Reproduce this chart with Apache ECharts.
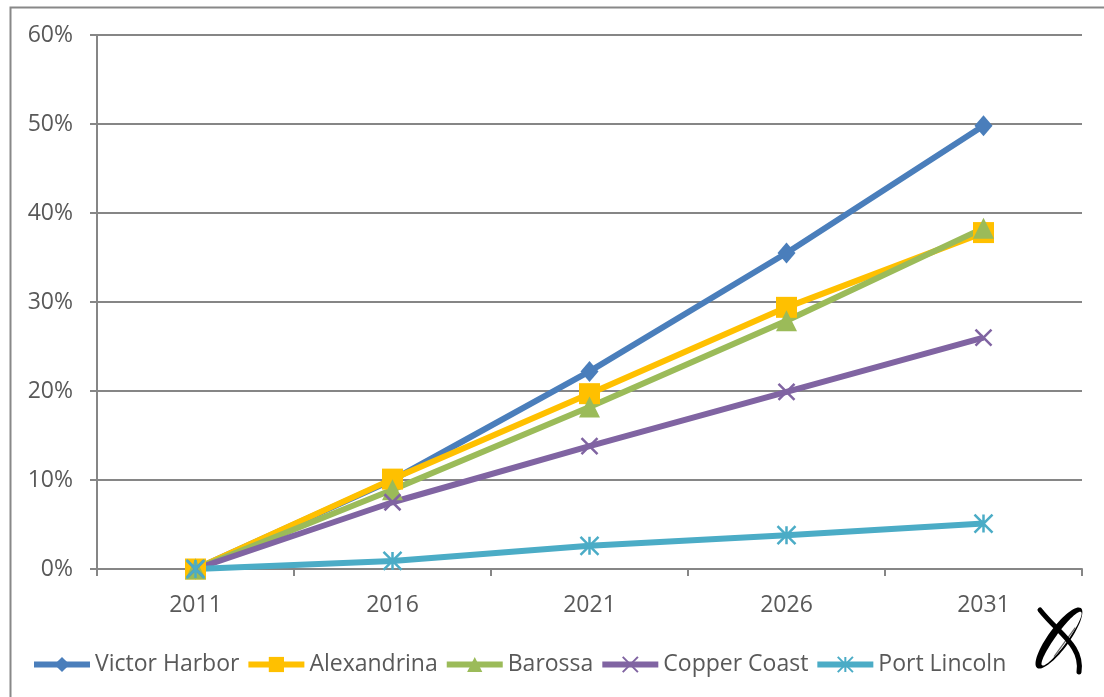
<!DOCTYPE html>
<html>
<head>
<meta charset="utf-8">
<script src="https://cdn.jsdelivr.net/npm/echarts@6/dist/echarts.min.js"></script>
<style>
  html, body { margin: 0; padding: 0; background: #ffffff; }
  #chart { width: 1104px; height: 697px; }
</style>
</head>
<body>
<div id="chart"></div>
<script>
// Projected population growth since 2011 (%)
const years = ['2011', '2016', '2021', '2026', '2031'];
const victorHarbor = [0, 10.0, 22.2, 35.5, 49.8];
const alexandrina = [0, 10.1, 19.7, 29.4, 37.8];
const barossa = [0, 8.9, 18.2, 27.9, 38.3];
const copperCoast = [0, 7.5, 13.8, 19.9, 26.0];
const portLincoln = [0, 0.9, 2.6, 3.8, 5.1];

const FONT = '"Open Sans", sans-serif';
const TEXT = '#595959';
const AXIS = '#868686';

const crossPath = 'path://M0,0L10,10M10,0L0,10';
const starPath = 'path://M5,0L5,10M0,0L10,10M10,0L0,10';

function lineSeries(name, data, color, symbol, size, stroked) {
  return {
    name: name,
    type: 'line',
    data: data,
    symbol: symbol,
    symbolSize: size,
    showAllSymbol: true,
    lineStyle: { color: color, width: 6 },
    itemStyle: stroked
      ? { color: color, borderColor: color, borderWidth: 2.5 }
      : { color: color, borderWidth: 0 },
    emphasis: { disabled: true },
    animation: false
  };
}

const chart = echarts.init(document.getElementById('chart'), null, { renderer: 'canvas' });
chart.setOption({
  backgroundColor: '#ffffff',
  textStyle: { fontFamily: FONT },
  grid: { left: 97, right: 22, top: 35, bottom: 128, containLabel: false },
  legend: {
    left: 31,
    top: 653,
    padding: 0,
    itemWidth: 56,
    itemHeight: 19,
    itemGap: 6,
    lineStyle: { width: 6 },
    textStyle: { fontFamily: FONT, fontSize: 23, color: TEXT },
    data: ['Victor Harbor', 'Alexandrina', 'Barossa', 'Copper Coast', 'Port Lincoln']
  },
  xAxis: {
    type: 'category',
    data: years,
    boundaryGap: true,
    axisLine: { show: true, lineStyle: { color: AXIS, width: 2 } },
    axisTick: { show: true, length: 7, lineStyle: { color: AXIS, width: 2 } },
    axisLabel: { color: TEXT, fontFamily: FONT, fontSize: 23, margin: 25 },
    splitLine: { show: false }
  },
  yAxis: {
    type: 'value',
    min: 0,
    max: 60,
    interval: 10,
    axisLine: { show: true, lineStyle: { color: AXIS, width: 2 } },
    axisTick: { show: true, length: 7, lineStyle: { color: AXIS, width: 2 } },
    axisLabel: { color: TEXT, fontFamily: FONT, fontSize: 23, margin: 24, formatter: '{value}%' },
    splitLine: { show: true, lineStyle: { color: AXIS, width: 2 } }
  },
  series: [
    lineSeries('Victor Harbor', victorHarbor, '#4a7ebb', 'diamond', [18, 21], false),
    lineSeries('Alexandrina', alexandrina, '#ffc000', 'rect', 21, false),
    lineSeries('Barossa', barossa, '#9bbb59', 'triangle', 21, false),
    lineSeries('Copper Coast', copperCoast, '#8064a2', crossPath, 16, true),
    lineSeries('Port Lincoln', portLincoln, '#4bacc6', starPath, 18, true)
  ],
  graphic: [
    // outer chart frame
    {
      type: 'rect', left: 8, top: 5, silent: true,
      shape: { x: 0, y: 0, width: 1200, height: 800 },
      style: { fill: 'none', stroke: '#888888', lineWidth: 2 }
    },
    // logo mark: tilted crescent ring crossed by a brush stroke
    {
      type: 'group', x: 1059, y: 638, silent: true,
      children: [
        {
          type: 'ellipse', rotation: -0.63,
          shape: { cx: 0, cy: 0, rx: 10.5, ry: 37 },
          style: { fill: '#000000' }
        },
        {
          type: 'ellipse', rotation: -0.63,
          shape: { cx: 2.5, cy: -1, rx: 6, ry: 33 },
          style: { fill: '#ffffff' }
        },
        {
          type: 'line', rotation: -0.63,
          shape: { x1: 7, y1: -18, x2: 7, y2: 18 },
          style: { stroke: '#666666', lineWidth: 1.2 }
        },
        {
          type: 'bezierCurve',
          shape: { x1: -19, y1: -28, cpx1: 0, cpy1: -4, cpx2: 24, cpy2: 8, x2: 20, y2: 34 },
          style: { stroke: '#000000', lineWidth: 5, lineCap: 'round', fill: 'none' }
        }
      ]
    }
  ]
});
</script>
</body>
</html>
